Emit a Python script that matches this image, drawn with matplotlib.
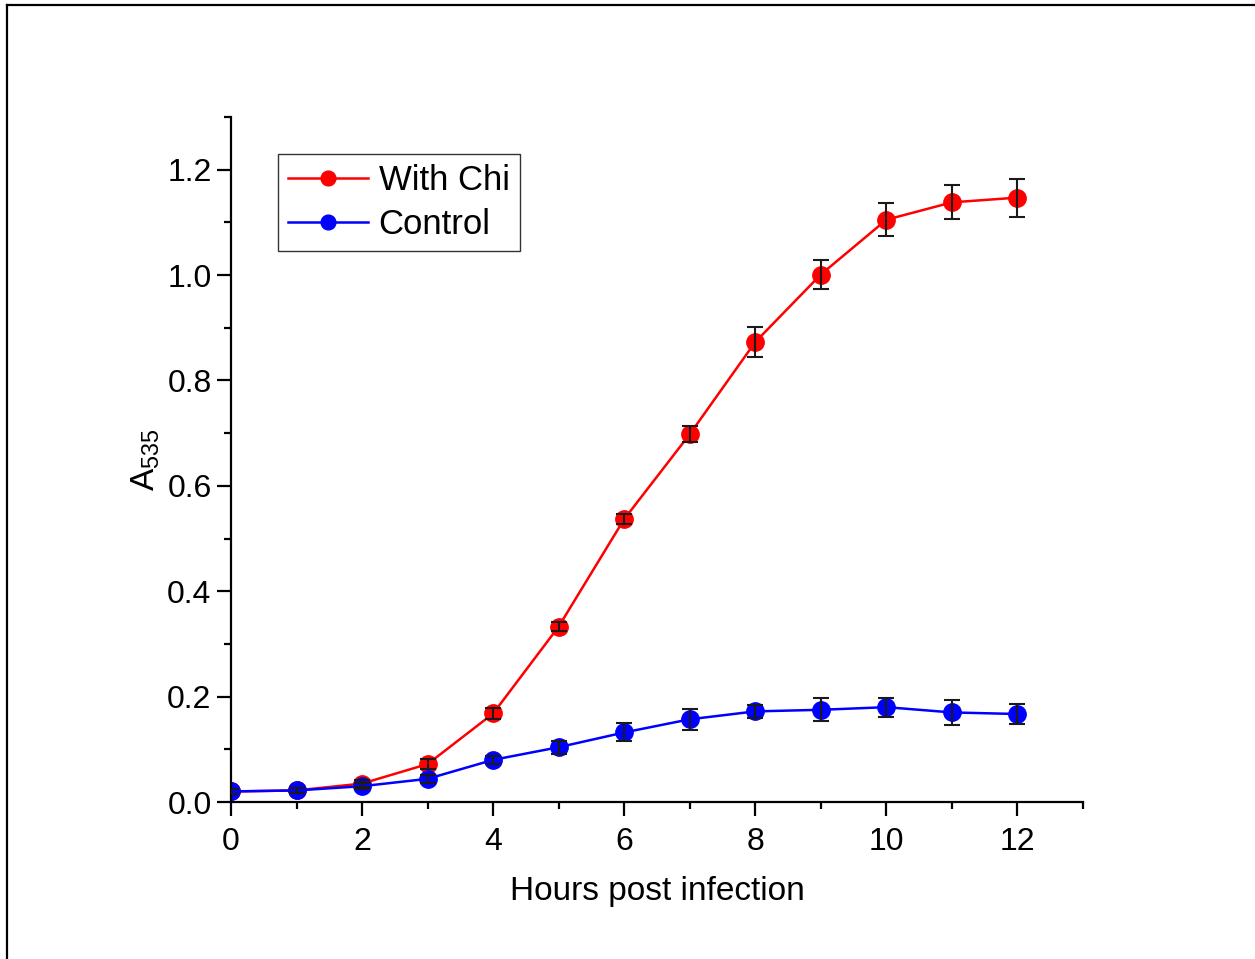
import matplotlib
matplotlib.use("Agg")
import matplotlib.pyplot as plt
from matplotlib.lines import Line2D
from matplotlib.ticker import MultipleLocator

plt.rcParams["font.family"] = ["Liberation Sans", "DejaVu Sans"]
plt.rcParams["mathtext.default"] = "regular"

hours = [0, 1, 2, 3, 4, 5, 6, 7, 8, 9, 10, 11, 12]
with_chi = [0.020, 0.022, 0.035, 0.072, 0.168, 0.333, 0.537, 0.698, 0.873, 1.001, 1.105, 1.138, 1.147]
with_chi_err = [0.004, 0.004, 0.006, 0.010, 0.010, 0.008, 0.010, 0.015, 0.028, 0.028, 0.031, 0.032, 0.036]
control = [0.020, 0.022, 0.030, 0.044, 0.080, 0.104, 0.132, 0.157, 0.172, 0.175, 0.180, 0.170, 0.167]
control_err = [0.004, 0.004, 0.006, 0.008, 0.008, 0.012, 0.017, 0.020, 0.013, 0.022, 0.018, 0.024, 0.019]

fig = plt.figure(figsize=(12.55, 9.59), dpi=100)
ax = fig.add_axes([0.1841, 0.1637, 0.6788, 0.7143])

h1, = ax.plot(hours, with_chi, color="#ff0000", marker="o", markersize=12.5, linewidth=1.8,
              label="With Chi", zorder=2)
h2, = ax.plot(hours, control, color="#0000ff", marker="o", markersize=12.5, linewidth=1.8,
              label="Control", zorder=2)
err_style = dict(fmt="none", ecolor="#1a1a1a", elinewidth=1.5, capsize=6, capthick=1.5, zorder=3)
ax.errorbar(hours, with_chi, yerr=with_chi_err, **err_style)
ax.errorbar(hours, control, yerr=control_err, **err_style)

ax.set_xlim(0, 13)
ax.set_ylim(0, 1.3)
ax.xaxis.set_major_locator(MultipleLocator(2))
ax.xaxis.set_minor_locator(MultipleLocator(1))
ax.yaxis.set_major_locator(MultipleLocator(0.2))
ax.yaxis.set_minor_locator(MultipleLocator(0.1))
ax.yaxis.set_major_formatter(lambda v, p: f"{v:.1f}")
ax.spines[["top", "right"]].set_visible(False)
for s in ("left", "bottom"):
    ax.spines[s].set_linewidth(1.6)
ax.tick_params(which="major", direction="out", length=10, width=1.6, labelsize=23, pad=4)
ax.tick_params(axis="x", which="major", pad=8)
ax.tick_params(which="minor", direction="out", length=5, width=1.6)

ax.set_xlabel("Hours post infection", fontsize=24, labelpad=14)
ax.set_ylabel("A$_{535}$", fontsize=24, labelpad=4)

leg = ax.legend(handles=[h1, h2], loc="upper left", bbox_to_anchor=(0.055, 0.946), fontsize=25,
                frameon=True, fancybox=False, edgecolor="black", handlelength=2.3,
                handletextpad=0.3, borderpad=0.3, labelspacing=0.3, borderaxespad=0,
                markerscale=0.85)
leg.get_frame().set_linewidth(1.0)

# page border (left and top edges only are visible)
fig.add_artist(Line2D([7 / 1255, 7 / 1255], [0, 1 - 5 / 959], transform=fig.transFigure, color="black", linewidth=1.6))
fig.add_artist(Line2D([7 / 1255, 1], [1 - 5 / 959, 1 - 5 / 959], transform=fig.transFigure, color="black", linewidth=1.6))

fig.savefig("out.png", dpi=100)
